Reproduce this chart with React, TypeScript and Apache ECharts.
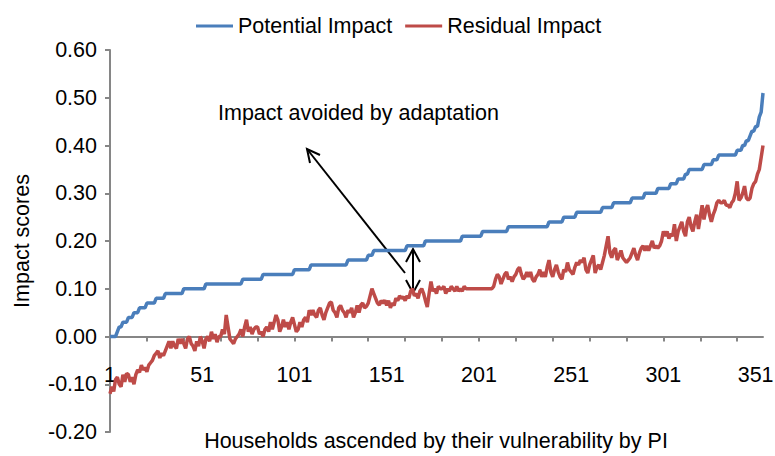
import React, { useEffect, useRef } from "react";
import * as echarts from "echarts";

const households: string[] = Array.from({ length: 355 }, (_, i) => String(i + 1));

const potentialImpact: number[] = [
  0, 0, 0, 0, 0.01, 0.02, 0.02, 0.03, 0.03, 0.03,
  0.04, 0.04, 0.04, 0.05, 0.05, 0.05, 0.06, 0.06, 0.06, 0.06,
  0.07, 0.07, 0.07, 0.07, 0.07, 0.08, 0.08, 0.08, 0.08, 0.08,
  0.09, 0.09, 0.09, 0.09, 0.09, 0.09, 0.09, 0.09, 0.09, 0.09,
  0.1, 0.1, 0.1, 0.1, 0.1, 0.1, 0.1, 0.1, 0.1, 0.1,
  0.1, 0.1, 0.11, 0.11, 0.11, 0.11, 0.11, 0.11, 0.11, 0.11,
  0.11, 0.11, 0.11, 0.11, 0.11, 0.11, 0.11, 0.11, 0.11, 0.11,
  0.11, 0.11, 0.12, 0.12, 0.12, 0.12, 0.12, 0.12, 0.12, 0.12,
  0.12, 0.12, 0.12, 0.13, 0.13, 0.13, 0.13, 0.13, 0.13, 0.13,
  0.13, 0.13, 0.13, 0.13, 0.13, 0.13, 0.13, 0.13, 0.13, 0.13,
  0.14, 0.14, 0.14, 0.14, 0.14, 0.14, 0.14, 0.14, 0.14, 0.15,
  0.15, 0.15, 0.15, 0.15, 0.15, 0.15, 0.15, 0.15, 0.15, 0.15,
  0.15, 0.15, 0.15, 0.15, 0.15, 0.15, 0.15, 0.15, 0.15, 0.16,
  0.16, 0.16, 0.16, 0.16, 0.16, 0.16, 0.16, 0.16, 0.16, 0.16,
  0.17, 0.17, 0.17, 0.18, 0.18, 0.18, 0.18, 0.18, 0.18, 0.18,
  0.18, 0.18, 0.18, 0.18, 0.18, 0.18, 0.18, 0.18, 0.18, 0.18,
  0.18, 0.19, 0.19, 0.19, 0.19, 0.19, 0.19, 0.19, 0.19, 0.19,
  0.19, 0.2, 0.2, 0.2, 0.2, 0.2, 0.2, 0.2, 0.2, 0.2,
  0.2, 0.2, 0.2, 0.2, 0.2, 0.2, 0.2, 0.2, 0.2, 0.2,
  0.2, 0.21, 0.21, 0.21, 0.21, 0.21, 0.21, 0.21, 0.21, 0.21,
  0.21, 0.21, 0.22, 0.22, 0.22, 0.22, 0.22, 0.22, 0.22, 0.22,
  0.22, 0.22, 0.22, 0.22, 0.22, 0.22, 0.23, 0.23, 0.23, 0.23,
  0.23, 0.23, 0.23, 0.23, 0.23, 0.23, 0.23, 0.23, 0.23, 0.23,
  0.23, 0.23, 0.23, 0.23, 0.23, 0.23, 0.23, 0.23, 0.24, 0.24,
  0.24, 0.24, 0.24, 0.24, 0.24, 0.24, 0.25, 0.25, 0.25, 0.25,
  0.25, 0.25, 0.25, 0.26, 0.26, 0.26, 0.26, 0.26, 0.26, 0.26,
  0.26, 0.26, 0.26, 0.26, 0.26, 0.26, 0.26, 0.27, 0.27, 0.27,
  0.27, 0.27, 0.27, 0.28, 0.28, 0.28, 0.28, 0.28, 0.28, 0.28,
  0.28, 0.28, 0.28, 0.29, 0.29, 0.29, 0.29, 0.29, 0.29, 0.29,
  0.3, 0.3, 0.3, 0.3, 0.3, 0.3, 0.3, 0.31, 0.31, 0.31,
  0.31, 0.31, 0.31, 0.31, 0.32, 0.32, 0.32, 0.32, 0.33, 0.33,
  0.33, 0.33, 0.34, 0.34, 0.35, 0.35, 0.35, 0.35, 0.35, 0.35,
  0.35, 0.35, 0.36, 0.36, 0.36, 0.36, 0.36, 0.37, 0.37, 0.37,
  0.38, 0.38, 0.38, 0.38, 0.38, 0.38, 0.38, 0.38, 0.38, 0.38,
  0.39, 0.39, 0.39, 0.4, 0.4, 0.41, 0.41, 0.42, 0.43, 0.43,
  0.44, 0.44, 0.46, 0.47, 0.51,
];

const residualImpact: number[] = [
  -0.12, -0.105, -0.115, -0.09, -0.085, -0.1, -0.105, -0.08, -0.095, -0.077,
  -0.08, -0.095, -0.085, -0.1, -0.08, -0.07, -0.075, -0.06, -0.07, -0.065,
  -0.074, -0.06, -0.055, -0.05, -0.04, -0.035, -0.03, -0.045, -0.035, -0.04,
  -0.03, -0.02, -0.01, -0.025, -0.01, -0.02, -0.025, -0.005, -0.015, -0.005,
  -0.015, -0.025, -0.005, 0.0, -0.015, -0.02, -0.03, -0.01, -0.02, 0.0,
  -0.01, -0.025, -0.005, 0.0, -0.01, 0.01, -0.005, 0.005, -0.012, 0.0,
  0.0, 0.015, 0.005, 0.045, 0.02, -0.005, -0.01, -0.015, -0.005, 0.0,
  0.005, 0.015, 0.0, 0.02, 0.035, 0.01, 0.02, 0.005, 0.015, 0.02,
  0.02, 0.005, 0.01, 0.0, 0.015, 0.02, 0.01, 0.03, 0.015, 0.03,
  0.045, 0.035, 0.01, 0.02, 0.035, 0.02, 0.03, 0.015, 0.03, 0.04,
  0.025, 0.01, 0.015, 0.03, 0.02, 0.035, 0.04, 0.03, 0.055, 0.045,
  0.055, 0.045, 0.04, 0.055, 0.06, 0.045, 0.035, 0.05, 0.06, 0.07,
  0.072, 0.055, 0.05, 0.04, 0.06, 0.065, 0.055, 0.05, 0.04, 0.055,
  0.05, 0.06, 0.04, 0.05, 0.065, 0.05, 0.066, 0.07, 0.06, 0.063,
  0.07, 0.085, 0.1, 0.09, 0.08, 0.07, 0.066, 0.075, 0.07, 0.076,
  0.065, 0.075, 0.06, 0.07, 0.065, 0.08, 0.075, 0.085, 0.08, 0.083,
  0.075, 0.085, 0.08, 0.095, 0.1, 0.085, 0.09, 0.08, 0.095, 0.1,
  0.09, 0.075, 0.062, 0.09, 0.115, 0.095, 0.1, 0.09, 0.105, 0.1,
  0.1, 0.105, 0.09, 0.1, 0.095, 0.105, 0.1, 0.095, 0.105, 0.095,
  0.1, 0.095, 0.105, 0.1, 0.1, 0.1, 0.1, 0.1, 0.1, 0.1,
  0.1, 0.1, 0.1, 0.1, 0.1, 0.1, 0.1, 0.1, 0.105, 0.12,
  0.13, 0.125, 0.11, 0.12, 0.13, 0.135, 0.12, 0.125, 0.115, 0.125,
  0.13, 0.14, 0.145, 0.13, 0.12, 0.125, 0.135, 0.125, 0.135, 0.12,
  0.115, 0.125, 0.13, 0.14, 0.125, 0.135, 0.125, 0.145, 0.16, 0.135,
  0.125, 0.14, 0.15, 0.135, 0.125, 0.12, 0.14, 0.135, 0.155, 0.14,
  0.135, 0.13, 0.145, 0.155, 0.15, 0.16, 0.155, 0.165, 0.14, 0.133,
  0.15, 0.16, 0.17, 0.133, 0.145, 0.15, 0.14, 0.155, 0.17, 0.19,
  0.21, 0.175, 0.165, 0.18, 0.185, 0.16, 0.17, 0.18, 0.165, 0.16,
  0.155, 0.16, 0.165, 0.175, 0.185, 0.17, 0.16, 0.175, 0.185, 0.19,
  0.18, 0.19, 0.18, 0.19, 0.2, 0.185, 0.19, 0.185, 0.19, 0.2,
  0.22, 0.21, 0.22, 0.205, 0.215, 0.21, 0.235, 0.2, 0.22, 0.23,
  0.24, 0.22, 0.21, 0.24, 0.25, 0.23, 0.22, 0.24, 0.255, 0.225,
  0.25, 0.275, 0.245, 0.265, 0.275, 0.255, 0.24, 0.255, 0.265, 0.28,
  0.285, 0.28, 0.28, 0.285, 0.275, 0.275, 0.27, 0.28, 0.285, 0.3,
  0.325, 0.285, 0.29, 0.3, 0.315, 0.29, 0.286, 0.29, 0.31, 0.32,
  0.325, 0.34, 0.35, 0.375, 0.4,
];

const seriesNames = ["Potential Impact", "Residual Impact"];
const seriesColors = ["#4A7EBB", "#BE4B48"];
const yTicks = { min: -0.2, max: 0.6, interval: 0.1 };
const annotationText = "Impact avoided by adaptation";
const xTitle = "Households ascended by their vulnerability by PI";
const yTitle = "Impact scores";

const FONT = "'Liberation Sans', Arial, sans-serif";
const FS = 21.5;
const AXIS_GRAY = "#868686";
const GRID = { left: 110, right: 12, top: 50, bottom: 24 };
const H = 456;

export default function App() {
  const ref = useRef<HTMLDivElement>(null);

  useEffect(() => {
    if (!ref.current) return;
    document.body.style.margin = "0";
    const chart = echarts.init(ref.current, undefined, { renderer: "svg" });
    const gridH = H - GRID.top - GRID.bottom;
    const zeroOffset = -gridH * (0 - yTicks.min) / (yTicks.max - yTicks.min);
    const line = (x1: number, y1: number, x2: number, y2: number) => ({
      type: "line",
      shape: { x1, y1, x2, y2 },
      style: { stroke: "#000", lineWidth: 2 },
      silent: true,
    });
    const head = (pts: number[][]) => ({
      type: "polyline",
      shape: { points: pts },
      style: { stroke: "#000", lineWidth: 2, fill: "none" },
      silent: true,
    });
    chart.setOption({
      animation: false,
      textStyle: { fontFamily: FONT },
      grid: { ...GRID, containLabel: false, outerBoundsMode: "none" },
      legend: {
        left: 191,
        top: 10,
        icon: "rect",
        itemWidth: 37,
        itemHeight: 3,
        itemGap: 13,
        textStyle: { fontSize: FS, color: "#000", fontFamily: FONT },
        data: seriesNames,
      },
      xAxis: {
        type: "category",
        data: households,
        boundaryGap: false,
        position: "bottom",
        offset: zeroOffset,
        axisLine: { onZero: false, lineStyle: { color: AXIS_GRAY, width: 2 } },
        axisTick: {
          show: true,
          length: 5,
          interval: (i: number) => i % 20 === 0,
          lineStyle: { color: AXIS_GRAY, width: 2 },
        },
        axisLabel: {
          interval: (i: number) => i % 50 === 0,
          margin: 27,
          fontSize: FS,
          color: "#000",
          fontFamily: FONT,
        },
        splitLine: { show: false },
      },
      yAxis: {
        type: "value",
        min: yTicks.min,
        max: yTicks.max,
        interval: yTicks.interval,
        axisLine: { show: true, lineStyle: { color: AXIS_GRAY, width: 2 } },
        axisTick: { show: true, length: 5, lineStyle: { color: AXIS_GRAY, width: 2 } },
        axisLabel: {
          margin: 13,
          fontSize: FS,
          color: "#000",
          fontFamily: FONT,
          formatter: (v: number) => v.toFixed(2),
        },
        splitLine: { show: false },
      },
      series: [
        {
          name: seriesNames[0],
          type: "line",
          data: potentialImpact,
          symbol: "none",
          lineStyle: { color: seriesColors[0], width: 3.5 },
          itemStyle: { color: seriesColors[0] },
          z: 3,
        },
        {
          name: seriesNames[1],
          type: "line",
          data: residualImpact,
          symbol: "none",
          lineStyle: { color: seriesColors[1], width: 3.5 },
          itemStyle: { color: seriesColors[1] },
          z: 2,
        },
      ],
      graphic: [
        {
          type: "text",
          x: 218,
          y: 113,
          style: {
            text: annotationText,
            fontSize: FS,
            fontFamily: FONT,
            fill: "#000",
            textAlign: "left",
            textVerticalAlign: "middle",
          },
        },
        {
          type: "text",
          x: 436,
          y: 441,
          style: {
            text: xTitle,
            fontSize: FS,
            fontFamily: FONT,
            fill: "#000",
            textAlign: "center",
            textVerticalAlign: "middle",
          },
        },
        {
          type: "text",
          x: 22,
          y: 241,
          rotation: Math.PI / 2,
          style: {
            text: yTitle,
            fontSize: FS,
            fontFamily: FONT,
            fill: "#000",
            textAlign: "center",
            textVerticalAlign: "middle",
          },
        },
        line(405, 273, 307, 149),
        head([[310, 163], [307, 149], [320, 155]]),
        line(413, 249, 413, 293),
        head([[406, 262], [413, 249], [420, 262]]),
        head([[406, 280], [413, 293], [420, 280]]),
      ],
    });
    return () => chart.dispose();
  }, []);

  return (
    <div
      ref={ref}
      style={{ position: "absolute", left: 0, top: 0, width: 775, height: H }}
    />
  );
}
